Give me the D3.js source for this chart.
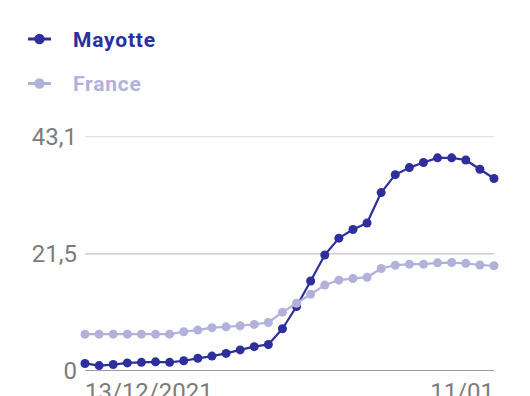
<!DOCTYPE html>
<html>
<head>
<meta charset="utf-8">
<script src="https://cdn.jsdelivr.net/npm/d3@7"></script>
<style>
  html, body { margin: 0; padding: 0; background: #fff; }
  svg { display: block; }
</style>
</head>
<body>
<svg id="chart" width="530" height="396"></svg>
<script>
const dates = ["2021-12-13","2021-12-14","2021-12-15","2021-12-16","2021-12-17","2021-12-18","2021-12-19","2021-12-20","2021-12-21","2021-12-22","2021-12-23","2021-12-24","2021-12-25","2021-12-26","2021-12-27","2021-12-28","2021-12-29","2021-12-30","2021-12-31","2022-01-01","2022-01-02","2022-01-03","2022-01-04","2022-01-05","2022-01-06","2022-01-07","2022-01-08","2022-01-09","2022-01-10","2022-01-11"];
const mayotte = [1.3, 0.9, 1.1, 1.4, 1.5, 1.6, 1.5, 1.8, 2.25, 2.65, 3.15, 3.8, 4.4, 4.8, 7.7, 11.8, 16.5, 21.3, 24.4, 26.0, 27.2, 32.8, 36.1, 37.4, 38.35, 39.2, 39.2, 38.8, 37.1, 35.4];
const france = [6.7, 6.7, 6.7, 6.7, 6.7, 6.7, 6.7, 7.15, 7.45, 7.9, 8.05, 8.25, 8.5, 8.85, 10.75, 12.4, 14.05, 15.75, 16.65, 16.95, 17.2, 18.8, 19.4, 19.6, 19.6, 19.85, 19.9, 19.75, 19.45, 19.3];
const seriesNames = ["Mayotte", "France"];
const seriesColors = ["#2e2e9c", "#b1b1da"];
const yTicks = [0, 21.5, 43.1];
const yTickLabels = ["0", "21,5", "43,1"];
const xTickDates = ["2021-12-13", "2022-01-11"];
const xTickLabels = ["13/12/2021", "11/01"];

const parse = d3.timeParse("%Y-%m-%d");
const svg = d3.select("#chart");
const font = "Roboto, 'Liberation Sans', sans-serif";

const x = d3.scaleTime().domain([parse(dates[0]), parse(dates[dates.length - 1])]).range([85, 494]);
const y = d3.scaleLinear().domain([0, 43.1]).range([370.5, 136.7]);

// gridlines
const gridColors = ["#9a9a9a", "#c4c4c4", "#e2e2e2"];
svg.append("g").selectAll("line").data(yTicks).join("line")
  .attr("x1", x.range()[0]).attr("x2", x.range()[1])
  .attr("y1", d => y(d)).attr("y2", d => y(d))
  .attr("stroke", (d, i) => gridColors[i])
  .attr("stroke-width", 1.2);

// y labels
svg.append("g").selectAll("text").data(yTicks).join("text")
  .attr("x", 77).attr("y", d => y(d))
  .attr("dy", "0.35em")
  .attr("text-anchor", "end")
  .attr("font-family", font).attr("font-size", 24)
  .attr("fill", "#7c7c7c")
  .text((d, i) => yTickLabels[i]);

// x labels (cut off at the bottom edge, as in the reference)
svg.append("g").selectAll("text").data(xTickDates).join("text")
  .attr("x", d => x(parse(d)))
  .attr("y", 400)
  .attr("text-anchor", (d, i) => i === 0 ? "start" : "end")
  .attr("font-family", font).attr("font-size", 24)
  .attr("fill", "#7c7c7c")
  .text((d, i) => xTickLabels[i]);

// series
const allSeries = [mayotte, france];
const line = d3.line().x((d, i) => x(parse(dates[i]))).y(d => y(d));
allSeries.forEach((vals, s) => {
  const g = svg.append("g");
  g.append("path").datum(vals)
    .attr("d", line)
    .attr("fill", "none")
    .attr("stroke", seriesColors[s])
    .attr("stroke-width", 2.2)
    .attr("stroke-linejoin", "round");
  g.selectAll("circle").data(vals).join("circle")
    .attr("cx", (d, i) => x(parse(dates[i])))
    .attr("cy", d => y(d))
    .attr("r", 4.5)
    .attr("fill", seriesColors[s]);
});

// legend
const legendY = [39, 83.5];
const lg = svg.append("g");
seriesNames.forEach((name, i) => {
  lg.append("line")
    .attr("x1", 28).attr("x2", 51)
    .attr("y1", legendY[i]).attr("y2", legendY[i])
    .attr("stroke", seriesColors[i]).attr("stroke-width", 3);
  lg.append("circle")
    .attr("cx", 39.5).attr("cy", legendY[i]).attr("r", 5.2)
    .attr("fill", seriesColors[i]);
  lg.append("text")
    .attr("x", 73).attr("y", legendY[i] + 7.7)
    .attr("font-family", font).attr("font-size", 21).attr("font-weight", "bold")
    .attr("letter-spacing", 0.8)
    .attr("fill", seriesColors[i])
    .text(name);
});
</script>
</body>
</html>
